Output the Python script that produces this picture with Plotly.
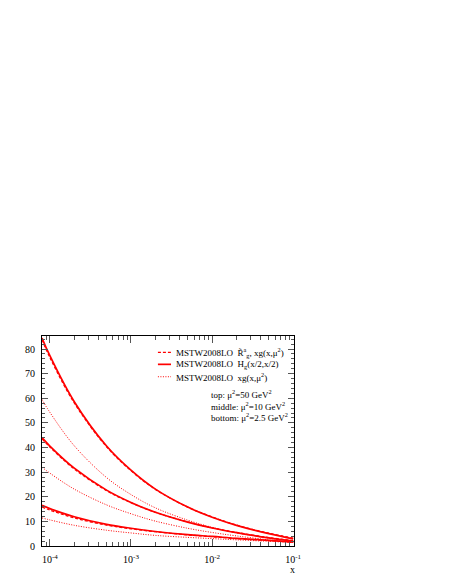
import plotly.graph_objects as go

x_vals = [8e-5, 1e-4, 2e-4, 5e-4, 1e-3, 2e-3, 5e-3, 1e-2, 2e-2, 5e-2, 1e-1]

# top: mu^2 = 50 GeV^2
top_ratio = [83.8, 76.6, 58.1, 40.3, 30.6, 23.0, 15.8, 11.8, 8.5, 5.2, 3.2]
top_hg = [84.5, 77.3, 58.6, 40.6, 30.8, 23.1, 15.8, 11.7, 8.4, 5.0, 2.9]
top_xg = [59.5, 54.3, 40.7, 27.8, 20.9, 15.5, 10.5, 7.6, 5.4, 3.2, 1.8]

# middle: mu^2 = 10 GeV^2
mid_ratio = [43.5, 40.2, 31.3, 22.5, 17.6, 13.7, 9.8, 7.4, 5.5, 3.4, 2.2]
mid_hg = [44.0, 40.6, 31.6, 22.7, 17.7, 13.7, 9.7, 7.3, 5.4, 3.3, 2.0]
mid_xg = [32.0, 29.6, 23.1, 16.7, 13.1, 10.1, 7.2, 5.5, 4.1, 2.5, 1.5]

# bottom: mu^2 = 2.5 GeV^2
bot_ratio = [15.8, 14.6, 11.4, 8.5, 7.0, 5.8, 4.5, 3.8, 3.0, 2.2, 1.6]
bot_hg = [16.5, 15.2, 11.9, 8.8, 7.2, 5.9, 4.6, 3.9, 3.1, 2.3, 1.6]
bot_xg = [11.4, 10.6, 8.4, 6.4, 5.3, 4.3, 3.5, 3.0, 2.5, 1.9, 1.4]

x_ticks = [1e-4, 1e-3, 1e-2, 1e-1]
x_ticktext = ["10<sup>-4</sup>", "10<sup>-3</sup>", "10<sup>-2</sup>", "10<sup>-1</sup>"]
x_minor = [m * d for d in [1e-5, 1e-4, 1e-3, 1e-2] for m in range(2, 10)]

legend_labels = [
    "MSTW2008LO  R\u0303<sup>a</sup><sub>g</sub>, xg(x,\u03bc<sup>2</sup>)",
    "MSTW2008LO  H<sub>g</sub>(x/2,x/2)",
    "MSTW2008LO  xg(x,\u03bc<sup>2</sup>)",
]
scale_labels = [
    "top: \u03bc<sup>2</sup>=50 GeV<sup>2</sup>",
    "middle: \u03bc<sup>2</sup>=10 GeV<sup>2</sup>",
    "bottom: \u03bc<sup>2</sup>=2.5 GeV<sup>2</sup>",
]

RED = "#ff0000"
FONT = "Liberation Serif"
styles = {
    "ratio": dict(color=RED, width=1.3, dash="3px,2px"),
    "hg": dict(color=RED, width=1.7),
    "xg": dict(color=RED, width=1, dash="1px,1.5px"),
}

fig = go.Figure()
for ratio, hg, xg in [(top_ratio, top_hg, top_xg), (mid_ratio, mid_hg, mid_xg), (bot_ratio, bot_hg, bot_xg)]:
    for key, ys in [("xg", xg), ("ratio", ratio), ("hg", hg)]:
        fig.add_trace(go.Scatter(x=x_vals, y=ys, mode="lines", line=styles[key],
                                 line_shape="spline", showlegend=False, hoverinfo="skip"))

# hand-made legend (ROOT style: short samples, tight rows)
leg_y = [0.922, 0.865, 0.806]
for key, lab, yy in zip(["ratio", "hg", "xg"], legend_labels, leg_y):
    st = styles[key]
    fig.add_shape(type="line", xref="paper", yref="paper", x0=0.46, x1=0.512, y0=yy, y1=yy,
                  line=dict(color=st["color"], width=st["width"], dash=st.get("dash", "solid")))
    fig.add_annotation(xref="paper", yref="paper", x=0.524, y=yy, text=lab, showarrow=False,
                       xanchor="left", yanchor="middle", font=dict(size=9, family=FONT, color="black"))

for lab, yy in zip(scale_labels, [0.724, 0.668, 0.613]):
    fig.add_annotation(xref="paper", yref="paper", x=0.663, y=yy, text=lab, showarrow=False,
                       xanchor="left", yanchor="middle", font=dict(size=9, family=FONT, color="black"))

fig.add_annotation(xref="paper", yref="paper", x=0.995, y=-0.075, text="x", showarrow=False,
                   xanchor="center", yanchor="top", font=dict(size=10, family=FONT, color="black"))

fig.update_xaxes(type="log", range=[-4.097, -0.99], tickvals=x_ticks, ticktext=x_ticktext,
                 ticks="inside", ticklen=7, tickcolor="#555", showline=True, linecolor="black",
                 linewidth=1, mirror="ticks", showgrid=False, zeroline=False, ticklabelstandoff=4,
                 minor=dict(tickvals=x_minor, ticks="inside", ticklen=4, tickcolor="#555"),
                 tickfont=dict(size=10, family=FONT, color="black"))
fig.update_yaxes(range=[0, 85.3], dtick=10, ticks="inside", ticklen=6, tickcolor="#555",
                 showline=True, linecolor="black", linewidth=1, mirror="ticks",
                 showgrid=False, zeroline=False, ticklabelstandoff=4,
                 minor=dict(dtick=2, ticks="inside", ticklen=3, tickcolor="#555"),
                 tickfont=dict(size=10, family=FONT, color="black"))

# the page body adds an 8px offset, so margins are shifted to land the frame on the reference
fig.update_layout(width=454, height=588, margin=dict(l=34, r=168, t=328, b=50),
                  plot_bgcolor="white", paper_bgcolor="white", showlegend=False,
                  font=dict(family=FONT, color="black"))

fig.write_html("out.html")
